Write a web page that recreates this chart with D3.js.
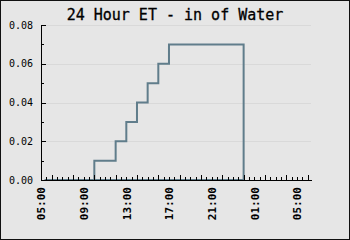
<!DOCTYPE html>
<html>
<head>
<meta charset="utf-8">
<script src="https://cdn.jsdelivr.net/npm/d3@7"></script>
<style>
  html, body { margin: 0; padding: 0; background: #e6e6e6; }
  svg { display: block; }
  .axis path, .axis line { stroke: #000; shape-rendering: crispEdges; }
</style>
</head>
<body>
<svg width="350" height="240"></svg>
<script>
// hourly ET readings (cumulative, resets at midnight)
var times = ["05:20", "10:00", "12:00", "13:00", "14:00", "15:00", "16:00", "17:00", "00:00", "05:30"];
var et = [0, 0.01, 0.02, 0.03, 0.04, 0.05, 0.06, 0.07, 0, 0];
var yTicks = [0, 0.02, 0.04, 0.06, 0.08];
var xStart = "05:00", xEnd = "06:19";

var parse = function (s, day) {
    var p = s.split(":");
    return new Date(2024, 0, 1 + day, +p[0], +p[1]);
};
var data = times.map(function (t, i) {
    var h = +t.split(":")[0];
    // anything before 05:00 belongs to the next day
    return { date: parse(t, (i > 0 && h < 5) ? 1 : 0), value: et[i] };
});

var svg = d3.select("svg"),
    margin = { top: 25, right: 39, bottom: 60, left: 41 },
    width = 350 - margin.left - margin.right,
    height = 240 - margin.top - margin.bottom;

svg.append("rect")
    .attr("x", 0.5).attr("y", 0.5)
    .attr("width", 349).attr("height", 239)
    .attr("fill", "#e6e6e6")
    .attr("stroke", "#111");

svg.append("text")
    .attr("x", 175)
    .attr("y", 20)
    .attr("text-anchor", "middle")
    .attr("font-family", "DejaVu Sans Mono")
    .attr("font-size", 15)
    .attr("stroke", "#000")
    .attr("stroke-width", 0.3)
    .text("24 Hour ET - in of Water");

var x = d3.scaleTime().domain([parse(xStart, 0), parse(xEnd, 1)]).range([0, width]),
    y = d3.scaleLinear().domain([0, 0.08]).range([height, 0]);

var g = svg.append("g")
    .attr("transform", "translate(" + margin.left + "," + margin.top + ")");

// grid
g.selectAll(".grid")
    .data(yTicks.slice(1))
    .enter().append("line")
    .attr("class", "grid")
    .attr("x1", 0).attr("x2", width)
    .attr("y1", function (d) { return Math.round(y(d)) + 0.5; })
    .attr("y2", function (d) { return Math.round(y(d)) + 0.5; })
    .attr("stroke", "#d9d9d9");

var line = d3.line()
    .curve(d3.curveStepAfter)
    .x(function (d) { return x(d.date); })
    .y(function (d) { return y(d.value); });

g.append("path")
    .datum(data)
    .attr("fill", "none")
    .attr("stroke", "#607d8b")
    .attr("stroke-width", 2)
    .attr("d", line);

var font = function (sel, size, weight) {
    sel.selectAll("text")
        .attr("font-family", "DejaVu Sans Mono")
        .attr("font-size", size)
        .attr("font-weight", weight)
        .attr("fill", "#000");
};

// y axis: minor then major
g.append("g")
    .attr("class", "axis")
    .call(d3.axisLeft(y).tickValues(d3.range(0, 0.0801, 0.01)).tickSizeInner(-3).tickSizeOuter(0).tickFormat(""));
g.append("g")
    .attr("class", "axis")
    .call(d3.axisLeft(y).tickValues(yTicks).tickSizeInner(-5).tickSizeOuter(0).tickPadding(8).tickFormat(d3.format(".2f")))
    .call(font, 10, "normal");

// x axis: 30 min minor, 2 h major, labels every 4 h
var xAxis = g.append("g")
    .attr("class", "axis")
    .attr("transform", "translate(0," + height + ")");
xAxis.append("g")
    .call(d3.axisBottom(x).ticks(d3.timeMinute.every(30)).tickSizeInner(-3).tickSizeOuter(0).tickFormat(""));
xAxis.append("g")
    .call(d3.axisBottom(x).ticks(d3.timeHour.every(2)).tickSizeInner(-5).tickSizeOuter(0).tickFormat(""));
var labels = xAxis.append("g")
    .call(d3.axisBottom(x)
        .tickValues(d3.timeHour.range(parse(xStart, 0), parse(xEnd, 1), 4))
        .tickSize(0).tickFormat(d3.timeFormat("%H:%M")))
    .call(font, 11, "bold");
labels.select(".domain").remove();
labels.selectAll("text")
    .attr("transform", "rotate(-90)")
    .attr("text-anchor", "end")
    .attr("x", -7)
    .attr("y", 0)
    .attr("dy", "0.35em");
</script>
</body>
</html>
